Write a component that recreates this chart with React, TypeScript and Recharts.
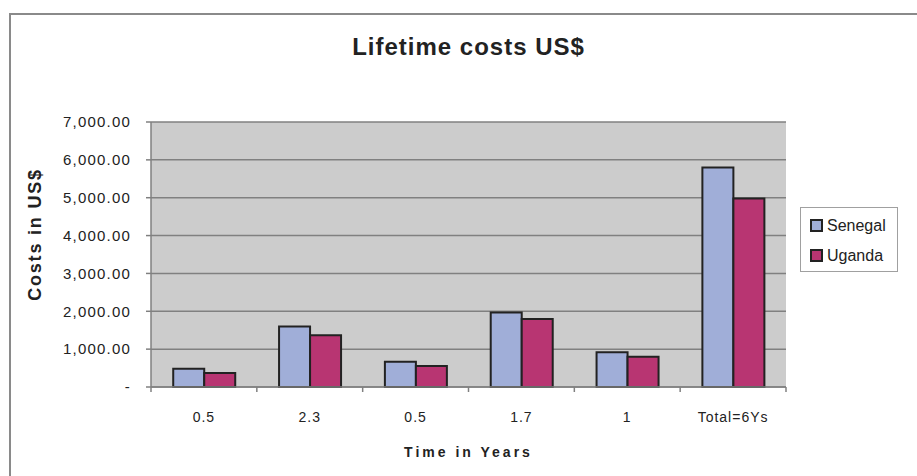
import React from 'react'
import { BarChart, Bar, XAxis, YAxis, CartesianGrid, Legend } from 'recharts'

const periods = ['0.5', '2.3', '0.5', '1.7', '1', 'Total=6Ys']
const senegal = [480, 1600, 670, 1970, 920, 5800]
const uganda = [370, 1365, 555, 1795, 800, 4980]
const yTicks = [0, 1000, 2000, 3000, 4000, 5000, 6000, 7000]

const series = [
  { key: 'Senegal', color: '#a0aed8' },
  { key: 'Uganda', color: '#b83572' },
]

const data = periods.map((p, i) => ({ period: p, Senegal: senegal[i], Uganda: uganda[i] }))

const FONT = '"Liberation Sans", Arial, sans-serif'
const AXIS_GRAY = '#808080'

// excel style: tick marks sit on category edges, label in the middle
function EdgeTick(props: any) {
  const { x, y, payload, index } = props
  const half = payload.offset ?? 0
  const last = index === periods.length - 1
  return (
    <g>
      <line x1={x - half} x2={x - half} y1={y - 5} y2={y} stroke={AXIS_GRAY} strokeWidth={1.5} />
      {last && <line x1={x + half} x2={x + half} y1={y - 5} y2={y} stroke={AXIS_GRAY} strokeWidth={1.5} />}
      <text x={x} y={y + 30} textAnchor="middle" fill="#222" fontSize={14} letterSpacing={1}>
        {payload.value}
      </text>
    </g>
  )
}

function LegendBox() {
  return (
    <div style={{ border: '1px solid #a0a0a0', background: '#fff', width: 96, height: 63, boxSizing: 'content-box' }}>
      {series.map((s, i) => (
        <div key={s.key} style={{ position: 'absolute', left: 10, top: 12 + i * 30, display: 'flex', alignItems: 'center' }}>
          <span style={{ width: 9, height: 9, border: '2px solid #222', background: s.color, display: 'inline-block' }} />
          <span style={{ marginLeft: 4, fontSize: 16, color: '#222', lineHeight: '13px' }}>{s.key}</span>
        </div>
      ))}
    </div>
  )
}

export default function App() {
  const fmt = (v: number) => (v === 0 ? '-' : v.toLocaleString('en-US', { minimumFractionDigits: 2, maximumFractionDigits: 2 }))

  return (
    <div style={{ position: 'absolute', left: 0, top: 0, width: 917, height: 476, background: '#fff', fontFamily: FONT, overflow: 'hidden' }}>
      {/* outer frame of the figure */}
      <div style={{ position: 'absolute', left: 9, top: 13, width: 930, height: 480, borderLeft: '2px solid #8a8a8a', borderTop: '2px solid #8a8a8a' }} />
      <div style={{ position: 'absolute', left: 151, top: 33, width: 635, textAlign: 'center', fontSize: 24, fontWeight: 'bold', letterSpacing: 1, color: '#222', lineHeight: 'normal' }}>
        Lifetime costs US$
      </div>
      <BarChart
        width={917}
        height={476}
        data={data}
        margin={{ top: 122, right: 131, bottom: 0, left: 10 }}
        barCategoryGap="21%"
        barGap={0}
        style={{ position: 'absolute', left: 0, top: 0 }}
      >
        <CartesianGrid vertical={false} stroke={AXIS_GRAY} strokeWidth={1.5} fill="#cccccc" />
        <XAxis
          dataKey="period"
          height={89}
          tickSize={5}
          tickMargin={0}
          tickLine={false}
          axisLine={{ stroke: AXIS_GRAY, strokeWidth: 1.5 }}
          tick={<EdgeTick />}
          interval={0}
          label={{
            content: (p: any) => (
              <text
                x={p.viewBox.x + p.viewBox.width / 2}
                y={p.viewBox.y + 70}
                textAnchor="middle"
                fontSize={14}
                fontWeight="bold"
                letterSpacing={3}
                fill="#222"
              >
                Time in Years
              </text>
            ),
          }}
        />
        <YAxis
          width={141}
          domain={[0, 7000]}
          ticks={yTicks}
          tickFormatter={fmt}
          tickSize={5}
          tickMargin={15}
          tickLine={{ stroke: AXIS_GRAY, strokeWidth: 1.5 }}
          axisLine={{ stroke: AXIS_GRAY, strokeWidth: 1.5 }}
          tick={{ fill: '#222', fontSize: 15, letterSpacing: 1.2 }}
          label={{
            content: (p: any) => {
              const cx = p.viewBox.x + 25
              const cy = p.viewBox.y + p.viewBox.height / 2 - 20
              return (
                <text
                  x={cx}
                  y={cy}
                  transform={`rotate(-90, ${cx}, ${cy})`}
                  textAnchor="middle"
                  dominantBaseline="central"
                  fontSize={18}
                  fontWeight="bold"
                  letterSpacing={1.8}
                  fill="#222"
                >
                  Costs in US$
                </text>
              )
            },
          }}
        />
        <YAxis yAxisId="frame" orientation="right" width={0} tick={false} tickLine={false} axisLine={{ stroke: AXIS_GRAY, strokeWidth: 1.5 }} />
        <Legend
          layout="vertical"
          align="center"
          verticalAlign="middle"
          wrapperStyle={{ left: 800, top: 207, width: 98 }}
          content={() => <LegendBox />}
        />
        {series.map((s) => (
          <Bar key={s.key} dataKey={s.key} fill={s.color} stroke="#222" strokeWidth={2} isAnimationActive={false} />
        ))}
      </BarChart>
    </div>
  )
}
